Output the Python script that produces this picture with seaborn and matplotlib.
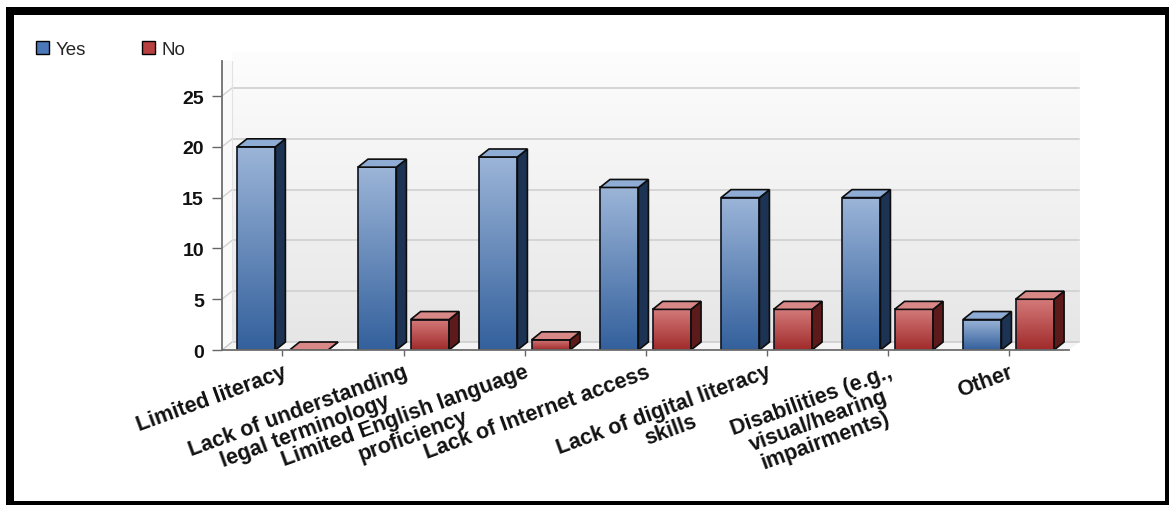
import numpy as np
import pandas as pd
import matplotlib
matplotlib.use("Agg")
import matplotlib.pyplot as plt
import matplotlib.transforms as mtrans
import seaborn as sns
from matplotlib.patches import Polygon, Patch, Rectangle
from matplotlib.colors import LinearSegmentedColormap

categories = ["Limited literacy",
              "Lack of understanding\nlegal terminology",
              "Limited English language\nproficiency",
              "Lack of Internet access",
              "Lack of digital literacy\nskills",
              "Disabilities (e.g.,\nvisual/hearing\nimpairments)",
              "Other"]
yes_values = [20, 18, 19, 16, 15, 15, 3]
no_values = [0, 3, 1, 4, 4, 4, 5]
series = ["Yes", "No"]
yticks = [0, 5, 10, 15, 20, 25]

df = pd.DataFrame({
    "category": categories * 2,
    "value": yes_values + no_values,
    "series": ["Yes"] * len(categories) + ["No"] * len(categories),
})

sns.set_theme(style="white")
plt.rcParams['font.family'] = ['Liberation Sans', 'DejaVu Sans']

fig = plt.figure(figsize=(11.69, 5.06), dpi=100)
ax = fig.add_axes([0.1899, 0.3063, 0.7246, 0.5712])

front = {"Yes": "#4a73ad", "No": "#b54444"}
grad_cols = {"Yes": ("#33609c", "#9cb5d8"), "No": ("#a02a2a", "#d47a7a")}
side = {"Yes": "#1d3354", "No": "#5c1a1a"}
top = {"Yes": "#8eacd4", "No": "#d98888"}

sns.barplot(data=df, x="category", y="value", hue="series", order=categories,
            hue_order=series, palette=front, width=0.87, gap=0.27,
            edgecolor="#0d1320", linewidth=1.2, legend=False, ax=ax)

XL, XR, YT = -0.5, 6.5, 28.45
ax.set_xlim(XL, XR)
ax.set_ylim(0, YT)

DX, DY = 10, 8  # depth in pixels
back = mtrans.offset_copy(ax.transData, fig=fig, x=DX, y=DY, units="dots")

# back wall with gradient (white top -> light grey bottom)
wall = np.linspace(0, 1, 256).reshape(-1, 1)
ax.imshow(wall, extent=[XL, XR, 0, YT], aspect="auto", origin="lower",
          cmap=LinearSegmentedColormap.from_list("w", ["#e6e6e6", "#fdfdfd"]),
          zorder=0, transform=back, clip_on=False)
for y in yticks[1:]:
    ax.plot([XL, XR], [y, y], color="#d2d2d2", lw=1.3, transform=back, zorder=0.5, clip_on=False)

fig.canvas.draw()
ox0, oy0 = ax.transData.transform((0, 0))
ox1, oy1 = ax.transData.transform((1, 1))
ux = DX / (ox1 - ox0)
uy = DY / (oy1 - oy0)
ax.add_patch(Polygon([(XL, 0), (XL + ux, uy), (XR + ux, uy), (XR, 0)], closed=True,
                     facecolor="#f4f4f4", edgecolor="none", zorder=0.6, clip_on=False))
ax.add_patch(Polygon([(XL, 0), (XL + ux, uy), (XL + ux, YT), (XL, YT)], closed=True,
                     facecolor="#fafafa", edgecolor="none", zorder=0.6, clip_on=False))
for y in yticks[1:]:
    ax.plot([XL, XL + ux], [y, y + uy], color="#d2d2d2", lw=1.0, zorder=0.7, clip_on=False)
ax.plot([XL, XL + ux, XR + ux], [0, uy, uy], color="#c8c8c8", lw=1.0, zorder=0.7, clip_on=False)
ax.plot([XL + ux, XL + ux], [uy, YT], color="#e2e2e2", lw=0.8, zorder=0.7, clip_on=False)

# 3D bars derived from the bar patches
for i, bar in enumerate(list(ax.patches)[:2 * len(categories)]):
    s = "Yes" if i < len(categories) else "No"
    xl, w, h = bar.get_x(), bar.get_width(), bar.get_height()
    xr = xl + w
    bar.set_zorder(3)
    if h > 0:
        g = np.linspace(0, 1, 256).reshape(-1, 1)
        im = ax.imshow(g, extent=[xl, xr, 0, h], aspect="auto", origin="lower",
                       cmap=LinearSegmentedColormap.from_list("b", grad_cols[s]), zorder=2.9)
        im.set_clip_path(bar)
        bar.set_facecolor("none")
    ax.add_patch(Polygon([(xr, 0), (xr + ux, uy), (xr + ux, h + uy), (xr, h)], closed=True,
                         facecolor=side[s], edgecolor="#0d0d0d", lw=1.2, zorder=3))
    ax.add_patch(Polygon([(xl, h), (xl + ux, h + uy), (xr + ux, h + uy), (xr, h)], closed=True,
                         facecolor=top[s], edgecolor="#0d0d0d", lw=1.2, zorder=3))

ax.set_xlim(XL, XR)
ax.set_ylim(0, YT)

ax.set_yticks(yticks)
ax.set_yticklabels([str(t) for t in yticks], fontsize=14, fontweight="bold", color="#111111")
ax.set_xticks(range(len(categories)))
ax.set_xticklabels(categories, rotation=20, ha="right", rotation_mode="anchor",
                   fontsize=15.5, fontweight="bold", color="#111111", linespacing=1.0,
                   multialignment="center")
shift = mtrans.ScaledTranslation(-7 / 100, -4 / 100, fig.dpi_scale_trans)
for lab in ax.get_xticklabels():
    lab.set_transform(lab.get_transform() + shift)
ax.tick_params(axis="y", length=7, width=1, color="#666666", direction="out", left=True, pad=6)
ax.tick_params(axis="x", length=4, width=1, color="#666666", direction="out", bottom=True, pad=4)
ax.set_xlabel("")
ax.set_ylabel("")
for sp in ["top", "right"]:
    ax.spines[sp].set_visible(False)
for sp in ["left", "bottom"]:
    ax.spines[sp].set_color("#6e6e6e")
    ax.spines[sp].set_linewidth(1.3)
    ax.spines[sp].set_zorder(4)
ax.set_facecolor("white")

handles = [Patch(facecolor=c, edgecolor="black", label=s)
           for s, c in zip(series, ["#4a78b8", "#b84040"])]
fig.legend(handles=handles, loc="upper left", bbox_to_anchor=(0.016, 0.95), ncol=2,
           frameon=False, fontsize=13.5, handlelength=0.7, handleheight=0.7,
           handletextpad=0.35, columnspacing=3.0)

# black frame bands (pixel extents of the picture border)
W, H = 1169.0, 506.0
bands = [(6, 8, 8, 498),      # left: x, y_top, width, height
         (6, 8, 1163, 8),     # top
         (1165, 8, 4, 498),   # right
         (6, 502, 1163, 4)]   # bottom
for bx, by, bw, bh in bands:
    fig.patches.append(Rectangle((bx / W, 1 - (by + bh) / H), bw / W, bh / H,
                                 transform=fig.transFigure, facecolor="black",
                                 edgecolor="none", lw=0, zorder=10))

fig.savefig("out.png", dpi=100, facecolor="white")
